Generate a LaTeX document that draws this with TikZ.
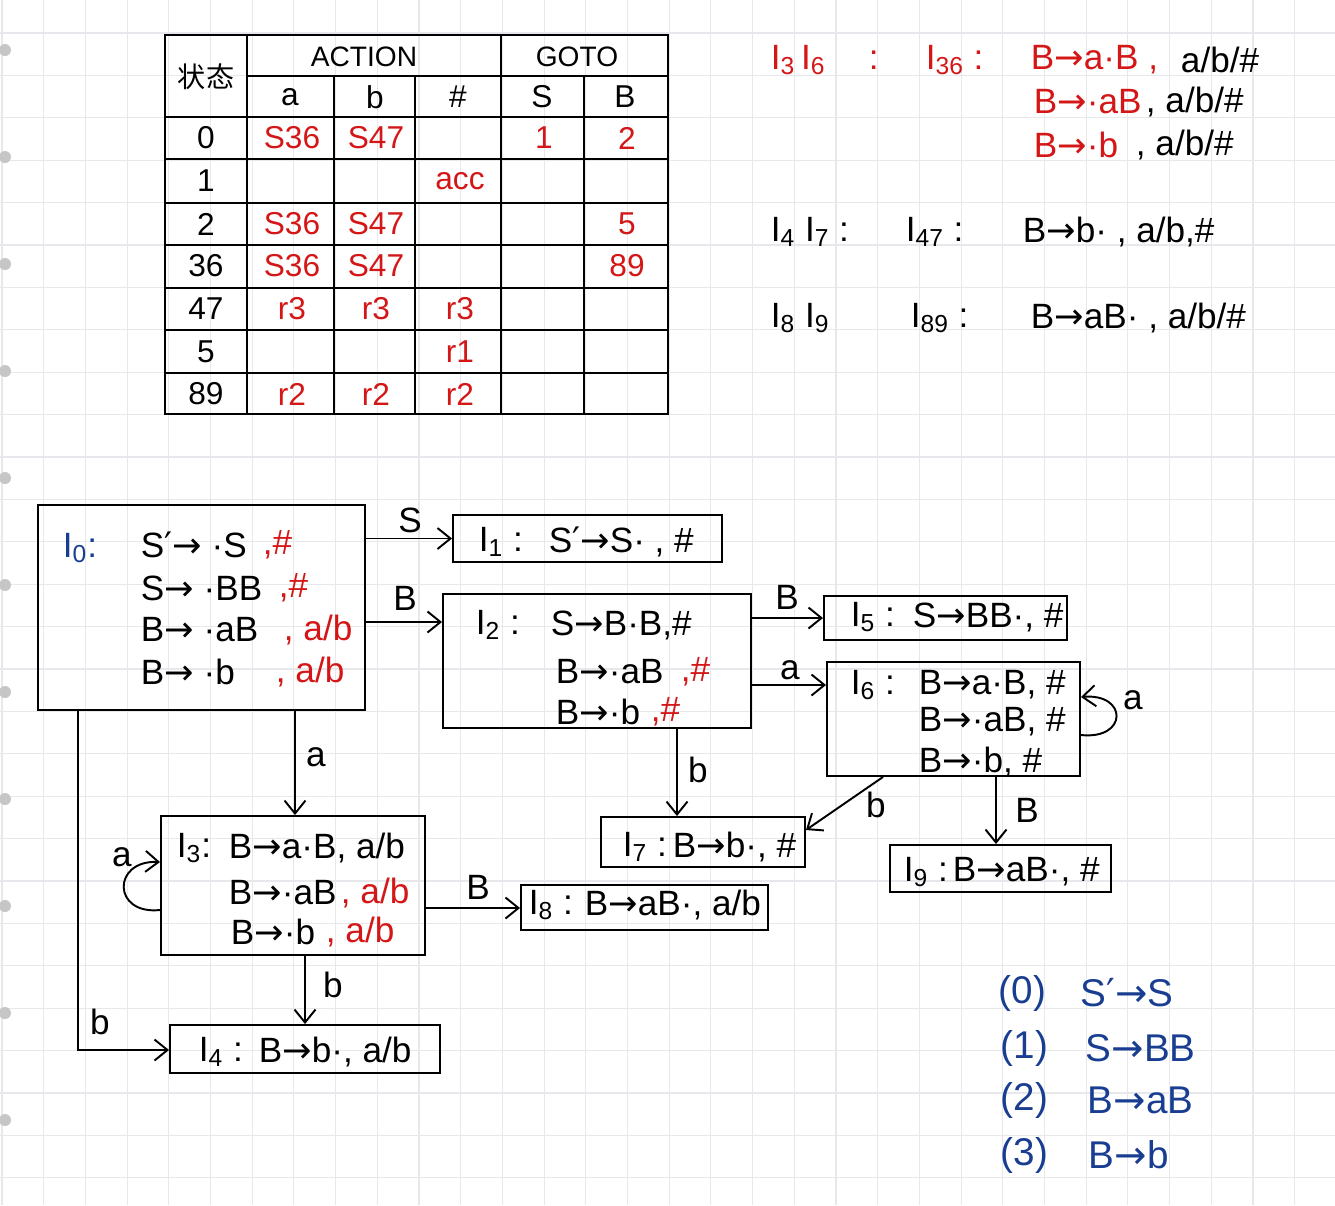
\documentclass[tikz,border=0pt]{standalone}
\usepackage{fontspec}
\setmainfont{Liberation Sans}
\newfontfamily\cjkfont{Noto Sans CJK SC}
\newfontfamily\symfont{DejaVu Sans}
\usetikzlibrary{arrows.meta,fit}

\definecolor{inkred}{RGB}{212,22,22}
\definecolor{inkblue}{RGB}{25,62,145}
\definecolor{paper}{RGB}{230,232,236}

\newcommand\yields{{\symfont →}}
\newcommand\sprime{{\symfont ′}}
\newcommand\Iset[1]{I\textsubscript{#1}}

\begin{document}
\begin{tikzpicture}[x=0.02cm,y=-0.02cm,->,>={Straight Barb[length=2.6mm,width=4.2mm]},
    line width=1.1pt,
    box/.style={draw,inner sep=0pt,fit={#1}},
    txt/.style={anchor=west,inner sep=0pt,font=\fontsize{20}{24}\selectfont},
    lbl/.style={inner sep=0pt,font=\fontsize{20}{24}\selectfont},
    cell/.style={inner sep=0pt,font=\fontsize{18}{22}\selectfont},
    prod/.style={anchor=west,inner sep=0pt,inkblue,font=\fontsize{22}{26}\selectfont}]

  \fill[white] (0,0) rectangle (1335,1205);
  \useasboundingbox (0,0) rectangle (1335,1205);
  \foreach \gx in {0,...,31}
    \draw[-,paper,line width=0.6pt] (2+41.7*\gx,0) -- (2+41.7*\gx,1205);
  \foreach \gy in {0,...,28}
    \draw[-,paper,line width=0.6pt] (0,33+42.4*\gy) -- (1335,33+42.4*\gy);
  \foreach \k in {0,...,10}
    \fill[gray!45] (5,50+107*\k) circle (0.12cm);

  % table
  \draw[-,line width=1.3pt] (165,35) rectangle (668,414);
  \draw[-,line width=1.3pt] (247,35) -- (247,414) (501,35) -- (501,414) (247,76) -- (668,76);
  \foreach \cx in {334,415,584}
    \draw[-,line width=1.3pt] (\cx,76) -- (\cx,414);
  \foreach \ry in {117,159,203,245,288,330,373}
    \draw[-,line width=1.3pt] (165,\ry) -- (668,\ry);

  \node[cell,font=\cjkfont\fontsize{16}{20}\selectfont] (hstate) at (206,77) {状态};
  \node[cell,font=\fontsize{16}{20}\selectfont] (haction) at (364,57) {ACTION};
  \node[cell,font=\fontsize{16}{20}\selectfont] (hgoto) at (577,57) {GOTO};
  \foreach \h/\hx in {a/290,b/375,\#/458,S/542,B/625}
    \node[cell] (h\hx) at (\hx,97) {\h};
  \foreach \st/\ry/\ea/\eb/\eh/\es/\eB in {0/138/S36/S47/{}/1/2, 1/181/{}/{}/acc/{}/{},
      2/224/S36/S47/{}/{}/5, 36/266/S36/S47/{}/{}/89, 47/309/r3/r3/r3/{}/{},
      5/352/{}/{}/r1/{}/{}, 89/394/r2/r2/r2/{}/{}}{
    \node[cell] (s\st) at (206,\ry) {\st};
    \node[cell,inkred] (a\st) at (292,\ry) {\ea};
    \node[cell,inkred] (b\st) at (376,\ry) {\eb};
    \node[cell,inkred] (e\st) at (460,\ry) {\eh};
    \node[cell,inkred] (g\st) at (544,\ry) {\es};
    \node[cell,inkred] (k\st) at (627,\ry) {\eB};
  }

  % merged states
  \node[txt,inkred] (m36a) at (770,60) {\Iset{3}\,\Iset{6}};
  \node[txt,inkred] (m36b) at (868,60) {:};
  \node[txt,inkred] (m36c) at (925,60) {\Iset{36} :};
  \node[txt,inkred] (m36d) at (1030,60) {B\yields a·B ,};
  \node[txt] (m36e) at (1180,60) {a/b/\#};
  \node[txt,inkred] (m36f) at (1033,102) {B\yields ·aB};
  \node[txt] (m36g) at (1145,102) {, a/b/\#};
  \node[txt,inkred] (m36h) at (1033,145) {B\yields ·b};
  \node[txt] (m36i) at (1135,145) {, a/b/\#};
  \node[txt] (m47a) at (770,232) {\Iset{4} \Iset{7} :};
  \node[txt] (m47b) at (905,232) {\Iset{47} :};
  \node[txt] (m47c) at (1022,232) {B\yields b· , a/b,\#};
  \node[txt] (m89a) at (770,318) {\Iset{8} \Iset{9}};
  \node[txt] (m89b) at (910,318) {\Iset{89} :};
  \node[txt] (m89c) at (1030,318) {B\yields aB· , a/b/\#};

  % item sets
  \node[box={(38,505) (365,710)}] (i0) {};
  \node[box={(453,515) (722,562)}] (i1) {};
  \node[box={(443,594) (751,728)}] (i2) {};
  \node[box={(824,596) (1067,640)}] (i5) {};
  \node[box={(827,662) (1080,776)}] (i6) {};
  \node[box={(601,817) (805,867)}] (i7) {};
  \node[box={(890,845) (1111,892)}] (i9) {};
  \node[box={(161,816) (425,955)}] (i3) {};
  \node[box={(521,885) (768,930)}] (i8) {};
  \node[box={(170,1025) (440,1073)}] (i4) {};

  \node[txt,inkblue] (t0) at (62,548) {\Iset{0}:};
  \node[txt] (t0a) at (140,545) {S\sprime\yields\ ·S};
  \node[txt,inkred] (t0b) at (262,545) {,\#};
  \node[txt] (t0c) at (140,588) {S\yields\ ·BB};
  \node[txt,inkred] (t0d) at (278,588) {,\#};
  \node[txt] (t0e) at (140,630) {B\yields\ ·aB};
  \node[txt,inkred] (t0f) at (283,630) {, a/b};
  \node[txt] (t0g) at (140,672) {B\yields\ ·b};
  \node[txt,inkred] (t0h) at (275,672) {, a/b};

  \node[txt] (t1) at (478,542) {\Iset{1} :};
  \node[txt] (t1a) at (548,542) {S\sprime\yields S· , \#};

  \node[txt] (t2) at (475,625) {\Iset{2} :};
  \node[txt] (t2a) at (550,625) {S\yields B·B,\#};
  \node[txt] (t2b) at (555,672) {B\yields·aB};
  \node[txt,inkred] (t2c) at (680,672) {,\#};
  \node[txt] (t2d) at (555,712) {B\yields·b};
  \node[txt,inkred] (t2e) at (650,712) {,\#};

  \node[txt] (t5) at (850,617) {\Iset{5} :};
  \node[txt] (t5a) at (912,617) {S\yields BB·, \#};

  \node[txt] (t6) at (850,685) {\Iset{6} :};
  \node[txt] (t6a) at (918,685) {B\yields a·B, \#};
  \node[txt] (t6b) at (918,722) {B\yields·aB, \#};
  \node[txt] (t6c) at (918,762) {B\yields·b, \#};

  \node[txt] (t7) at (622,847) {\Iset{7} :};
  \node[txt] (t7a) at (672,847) {B\yields b·, \#};

  \node[txt] (t9) at (903,872) {\Iset{9} :};
  \node[txt] (t9a) at (952,872) {B\yields aB·, \#};

  \node[txt] (t3) at (176,848) {\Iset{3}:};
  \node[txt] (t3a) at (228,848) {B\yields a·B, a/b};
  \node[txt] (t3b) at (228,893) {B\yields·aB};
  \node[txt,inkred] (t3c) at (340,893) {, a/b};
  \node[txt] (t3d) at (230,932) {B\yields·b};
  \node[txt,inkred] (t3e) at (325,932) {, a/b};

  \node[txt] (t8) at (528,905) {\Iset{8} :};
  \node[txt] (t8a) at (584,905) {B\yields aB·, a/b};

  \node[txt] (t4) at (198,1052) {\Iset{4} :};
  \node[txt] (t4a) at (258,1052) {B\yields b·, a/b};

  % transitions
  \draw (i0.east |- i1.west) -- (i1.west);
  \node[lbl] (l01) at (410,520) {S};
  \draw (i0.east |- 0,622) -- (i2.west |- 0,622);
  \node[lbl] (l02) at (405,598) {B};
  \draw (i2.east |- i5.west) -- (i5.west);
  \node[lbl] (l25) at (787,597) {B};
  \draw (i2.east |- 0,685) -- (i6.west |- 0,685);
  \node[lbl] (l26) at (790,670) {a};
  \draw (i6.east |- 0,735) .. controls (1128,740) and (1128,693) .. (i6.east |- 0,697);
  \node[lbl] (l66) at (1133,700) {a};
  \draw (i2.south -| 677,0) -- (i7.north -| 677,0);
  \node[lbl] (l27) at (698,770) {b};
  \draw (i6.south -| 883,0) -- (i7.east |- 0,830);
  \node[lbl] (l67) at (876,805) {b};
  \draw (i6.south -| 996,0) -- (i9.north -| 996,0);
  \node[lbl] (l69) at (1027,810) {B};
  \draw (i0.south -| 295,0) -- (i3.north -| 295,0);
  \node[lbl] (l03) at (316,757) {a};
  \draw (i3.west |- 0,910) .. controls (112,915) and (112,860) .. (i3.west |- 0,862);
  \node[lbl] (l33) at (122,857) {a};
  \draw (i3.east |- 0,908) -- (i8.west |- 0,908);
  \node[lbl] (l38) at (478,887) {B};
  \draw (i3.south -| 305,0) -- (i4.north -| 305,0);
  \node[lbl] (l34) at (333,985) {b};
  \draw (i0.south -| 78,0) |- (i4.west |- 0,1050);
  \node[lbl] (l04) at (100,1022) {b};

  % grammar
  \node[prod] (p0) at (998,993) {(0)};
  \node[prod] (p0a) at (1080,993) {S\sprime\yields S};
  \node[prod] (p1) at (1000,1048) {(1)};
  \node[prod] (p1a) at (1085,1048) {S\yields BB};
  \node[prod] (p2) at (1000,1100) {(2)};
  \node[prod] (p2a) at (1087,1100) {B\yields aB};
  \node[prod] (p3) at (1000,1155) {(3)};
  \node[prod] (p3a) at (1088,1155) {B\yields b};
\end{tikzpicture}
\end{document}
